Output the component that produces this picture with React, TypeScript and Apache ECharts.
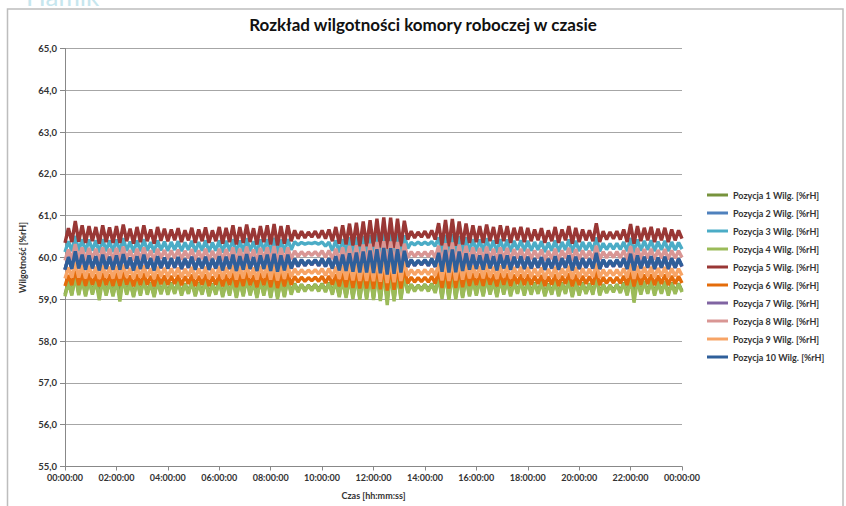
import React, { useEffect, useRef } from "react";
import * as echarts from "echarts";

// sampling: one reading every 8 minutes over 24 h (181 readings)
const stepMinutes = 8;
const times: number[] = Array.from({ length: 181 }, (_, i) => i * stepMinutes);

const yTicks = { min: 55, max: 65, interval: 1 };
const xTicks = { min: 0, max: 1440, interval: 120 };

const seriesNames = [
  "Pozycja 1 Wilg. [%rH]",
  "Pozycja 2 Wilg. [%rH]",
  "Pozycja 3 Wilg. [%rH]",
  "Pozycja 4 Wilg. [%rH]",
  "Pozycja 5 Wilg. [%rH]",
  "Pozycja 6 Wilg. [%rH]",
  "Pozycja 7 Wilg. [%rH]",
  "Pozycja 8 Wilg. [%rH]",
  "Pozycja 9 Wilg. [%rH]",
  "Pozycja 10 Wilg. [%rH]",
];

const pos1 = [
  59.11,59.43,59.13,59.58,59.14,59.49,59.11,59.47,59.15,59.45,59.09,59.49,59.13,59.44,59.11,
  59.47,59.11,59.51,59.15,59.42,59.09,59.45,59.13,59.49,59.15,59.40,59.09,59.45,59.15,59.42,
  59.15,59.40,59.16,59.43,59.13,59.38,59.16,59.43,59.11,59.40,59.15,59.44,59.11,59.38,59.15,
  59.45,59.09,59.43,59.13,59.49,59.07,59.45,59.11,59.51,59.13,59.43,59.07,59.47,59.13,59.49,
  59.07,59.52,59.06,59.47,59.09,59.49,59.15,59.38,59.20,59.36,59.22,59.34,59.24,59.36,59.22,
  59.38,59.20,59.40,59.15,59.45,59.09,59.49,59.07,59.52,59.06,59.54,59.04,59.57,59.04,59.60,
  59.03,59.63,59.01,59.66,58.98,59.65,59.00,59.63,59.04,59.59,59.18,59.36,59.22,59.34,59.24,
  59.36,59.22,59.38,59.18,59.53,59.06,59.61,59.04,59.62,59.05,59.57,59.07,59.52,59.11,59.49,
  59.13,59.47,59.11,59.51,59.15,59.45,59.09,59.49,59.15,59.47,59.11,59.43,59.16,59.45,59.13,
  59.43,59.15,59.40,59.16,59.43,59.11,59.38,59.15,59.45,59.11,59.40,59.16,59.47,59.09,59.43,
  59.13,59.40,59.16,59.38,59.15,59.53,59.13,59.36,59.18,59.34,59.20,59.36,59.18,59.40,59.13,
  59.52,59.09,59.47,59.15,59.43,59.16,59.45,59.13,59.42,59.16,59.43,59.13,59.40,59.16,59.38,
  59.20,
];

const pos2 = [
  59.72,60.00,59.74,60.14,59.75,60.06,59.72,60.04,59.75,60.02,59.70,60.06,59.74,60.01,59.72,
  60.04,59.72,60.07,59.75,59.99,59.70,60.02,59.74,60.06,59.75,59.97,59.70,60.02,59.76,59.99,
  59.75,59.97,59.77,60.00,59.74,59.96,59.77,60.01,59.72,59.97,59.75,60.01,59.72,59.96,59.75,
  60.02,59.70,60.01,59.74,60.06,59.69,60.02,59.72,60.07,59.74,60.00,59.69,60.04,59.74,60.06,
  59.69,60.08,59.67,60.04,59.70,60.06,59.75,59.96,59.80,59.94,59.82,59.92,59.84,59.94,59.82,
  59.96,59.80,59.97,59.75,60.02,59.70,60.06,59.69,60.09,59.67,60.11,59.65,60.13,59.65,60.16,
  59.64,60.19,59.63,60.22,59.60,60.21,59.62,60.19,59.65,60.15,59.79,59.94,59.82,59.92,59.84,
  59.94,59.82,59.96,59.79,60.10,59.67,60.17,59.65,60.18,59.66,60.13,59.69,60.09,59.72,60.06,
  59.74,60.04,59.72,60.07,59.75,60.02,59.70,60.06,59.75,60.04,59.72,60.01,59.77,60.02,59.74,
  60.01,59.75,59.97,59.77,60.00,59.72,59.96,59.75,60.02,59.72,59.97,59.77,60.04,59.70,60.01,
  59.74,59.97,59.77,59.96,59.75,60.10,59.74,59.94,59.79,59.92,59.80,59.94,59.79,59.97,59.74,
  60.08,59.70,60.04,59.75,60.01,59.77,60.02,59.74,59.99,59.77,60.01,59.74,59.97,59.77,59.96,
  59.80,
];

const pos3 = [
  60.13,60.39,60.15,60.52,60.15,60.44,60.13,60.43,60.16,60.41,60.12,60.44,60.15,60.41,60.13,
  60.43,60.13,60.46,60.16,60.38,60.12,60.41,60.15,60.44,60.16,60.37,60.12,60.41,60.17,60.38,
  60.16,60.37,60.18,60.39,60.15,60.36,60.18,60.40,60.13,60.37,60.16,60.41,60.13,60.36,60.16,
  60.41,60.12,60.40,60.15,60.44,60.10,60.41,60.13,60.46,60.15,60.39,60.10,60.43,60.15,60.44,
  60.10,60.47,60.08,60.43,60.12,60.44,60.18,60.38,60.30,60.36,60.32,60.35,60.33,60.36,60.32,
  60.37,60.27,60.37,60.16,60.41,60.12,60.44,60.10,60.48,60.08,60.49,60.07,60.51,60.07,60.53,
  60.06,60.57,60.05,60.59,60.02,60.58,60.04,60.57,60.07,60.53,60.22,60.36,60.30,60.37,60.31,
  60.37,60.31,60.38,60.27,60.48,60.08,60.54,60.07,60.56,60.08,60.51,60.10,60.48,60.13,60.44,
  60.15,60.43,60.13,60.46,60.16,60.41,60.12,60.44,60.16,60.43,60.13,60.40,60.18,60.41,60.15,
  60.40,60.16,60.37,60.18,60.39,60.13,60.36,60.16,60.41,60.13,60.37,60.18,60.43,60.12,60.40,
  60.15,60.37,60.18,60.36,60.16,60.48,60.15,60.34,60.19,60.33,60.20,60.34,60.19,60.37,60.15,
  60.47,60.12,60.43,60.16,60.40,60.18,60.41,60.15,60.38,60.18,60.40,60.15,60.37,60.18,60.36,
  60.20,
];

const pos4 = [
  59.07,59.42,59.09,59.59,59.10,59.49,59.07,59.47,59.11,59.45,58.98,59.49,59.09,59.44,59.07,
  59.47,58.95,59.51,59.11,59.41,59.05,59.45,59.09,59.49,59.11,59.39,59.05,59.45,59.12,59.41,
  59.11,59.39,59.13,59.42,59.09,59.37,59.13,59.43,59.07,59.39,59.11,59.44,59.07,59.37,59.11,
  59.45,59.05,59.43,59.09,59.49,59.03,59.45,59.07,59.51,59.09,59.42,59.03,59.47,59.09,59.49,
  59.03,59.52,59.01,59.47,59.05,59.49,59.11,59.37,59.17,59.35,59.19,59.33,59.21,59.35,59.19,
  59.37,59.17,59.39,59.11,59.45,59.05,59.49,59.03,59.53,59.01,59.55,58.99,59.58,58.99,59.61,
  58.98,59.65,58.96,59.68,58.86,59.67,58.95,59.65,58.99,59.60,59.15,59.35,59.19,59.33,59.21,
  59.35,59.19,59.37,59.15,59.54,59.01,59.62,58.99,59.64,59.00,59.58,59.03,59.53,59.07,59.49,
  59.09,59.47,59.07,59.51,59.11,59.45,59.05,59.49,59.11,59.47,59.07,59.43,59.13,59.45,59.09,
  59.43,59.11,59.39,59.13,59.42,59.07,59.37,59.11,59.45,59.07,59.39,59.13,59.47,59.05,59.43,
  59.09,59.39,59.13,59.37,59.11,59.54,59.09,59.35,59.15,59.33,59.17,59.35,59.15,59.39,59.09,
  59.52,58.92,59.47,59.11,59.43,59.13,59.45,59.09,59.41,59.13,59.43,59.09,59.39,59.13,59.37,
  59.17,
];

const pos5 = [
  60.35,60.70,60.37,60.87,60.38,60.77,60.35,60.75,60.39,60.73,60.33,60.77,60.37,60.72,60.35,
  60.75,60.35,60.79,60.39,60.69,60.33,60.73,60.37,60.77,60.39,60.67,60.33,60.73,60.40,60.69,
  60.39,60.67,60.41,60.70,60.37,60.65,60.41,60.71,60.35,60.67,60.39,60.72,60.35,60.65,60.39,
  60.73,60.33,60.71,60.37,60.77,60.31,60.73,60.35,60.79,60.37,60.70,60.31,60.75,60.37,60.77,
  60.31,60.80,60.29,60.75,60.33,60.77,60.39,60.65,60.45,60.63,60.47,60.61,60.49,60.63,60.47,
  60.65,60.45,60.67,60.39,60.73,60.33,60.77,60.31,60.81,60.29,60.83,60.27,60.86,60.27,60.89,
  60.26,60.93,60.24,60.96,60.21,60.95,60.23,60.93,60.27,60.88,60.43,60.63,60.47,60.61,60.49,
  60.63,60.47,60.65,60.43,60.82,60.29,60.90,60.27,60.92,60.28,60.86,60.31,60.81,60.35,60.77,
  60.37,60.75,60.35,60.79,60.39,60.73,60.33,60.77,60.39,60.75,60.35,60.71,60.41,60.73,60.37,
  60.71,60.39,60.67,60.41,60.70,60.35,60.65,60.39,60.73,60.35,60.67,60.41,60.75,60.33,60.71,
  60.37,60.67,60.41,60.65,60.39,60.82,60.37,60.63,60.43,60.61,60.45,60.63,60.43,60.67,60.37,
  60.80,60.33,60.75,60.39,60.71,60.41,60.73,60.37,60.69,60.41,60.71,60.37,60.67,60.41,60.65,
  60.45,
];

const pos6 = [
  59.32,59.58,59.34,59.71,59.34,59.63,59.32,59.62,59.35,59.60,59.31,59.63,59.34,59.60,59.32,
  59.62,59.32,59.65,59.35,59.57,59.31,59.60,59.34,59.63,59.35,59.56,59.31,59.60,59.36,59.57,
  59.35,59.56,59.37,59.58,59.34,59.55,59.37,59.59,59.32,59.56,59.35,59.60,59.32,59.55,59.35,
  59.60,59.31,59.59,59.34,59.63,59.29,59.60,59.32,59.65,59.34,59.58,59.29,59.62,59.34,59.63,
  59.29,59.66,59.27,59.62,59.31,59.63,59.35,59.55,59.41,59.53,59.43,59.52,59.44,59.53,59.43,
  59.55,59.39,59.56,59.35,59.60,59.31,59.63,59.29,59.67,59.27,59.68,59.26,59.70,59.26,59.72,
  59.25,59.76,59.24,59.78,59.21,59.77,59.23,59.76,59.26,59.72,59.38,59.53,59.41,59.52,59.42,
  59.53,59.41,59.55,59.38,59.67,59.27,59.73,59.26,59.75,59.27,59.70,59.29,59.67,59.32,59.63,
  59.34,59.62,59.32,59.65,59.35,59.60,59.31,59.63,59.35,59.62,59.32,59.59,59.37,59.60,59.34,
  59.59,59.35,59.56,59.37,59.58,59.32,59.55,59.35,59.60,59.32,59.56,59.37,59.62,59.31,59.59,
  59.34,59.56,59.37,59.55,59.35,59.67,59.34,59.53,59.38,59.52,59.39,59.53,59.38,59.56,59.34,
  59.66,59.31,59.62,59.35,59.59,59.37,59.60,59.34,59.57,59.37,59.59,59.34,59.56,59.37,59.55,
  59.39,
];

const pos7 = [
  59.70,60.02,59.72,60.13,59.73,60.06,59.70,60.04,59.73,60.02,59.68,60.06,59.72,60.01,59.70,
  60.04,59.70,60.07,59.73,59.99,59.68,60.02,59.72,60.06,59.73,59.97,59.68,60.02,59.74,59.99,
  59.73,59.97,59.75,60.00,59.72,59.96,59.75,60.01,59.70,59.97,59.73,60.01,59.70,59.96,59.73,
  60.02,59.68,60.01,59.72,60.06,59.67,60.02,59.70,60.07,59.72,60.00,59.67,60.04,59.72,60.06,
  59.67,60.08,59.65,60.04,59.68,60.06,59.73,59.96,59.78,59.94,59.80,59.92,59.82,59.94,59.80,
  59.96,59.78,59.97,59.73,60.02,59.68,60.06,59.67,60.09,59.65,60.11,59.63,60.13,59.63,60.16,
  59.62,60.19,59.61,60.22,59.58,60.21,59.60,60.19,59.63,60.15,59.77,59.94,59.80,59.92,59.82,
  59.94,59.80,59.96,59.77,60.10,59.65,60.17,59.63,60.18,59.64,60.13,59.67,60.09,59.70,60.06,
  59.72,60.04,59.70,60.07,59.73,60.02,59.68,60.06,59.73,60.04,59.70,60.01,59.75,60.02,59.72,
  60.01,59.73,59.97,59.75,60.00,59.70,59.96,59.73,60.02,59.70,59.97,59.75,60.04,59.68,60.01,
  59.72,59.97,59.75,59.96,59.73,60.10,59.72,59.94,59.77,59.92,59.78,59.94,59.77,59.97,59.72,
  60.08,59.68,60.04,59.73,60.01,59.75,60.02,59.72,59.99,59.75,60.01,59.72,59.97,59.75,59.96,
  59.78,
];

const pos8 = [
  59.93,60.19,59.95,60.32,59.95,60.24,59.93,60.23,59.96,60.21,59.92,60.24,59.95,60.21,59.93,
  60.23,59.93,60.26,59.96,60.18,59.92,60.21,59.95,60.24,59.96,60.17,59.92,60.21,59.97,60.18,
  59.96,60.17,59.98,60.19,59.95,60.16,59.98,60.20,59.93,60.17,59.96,60.21,59.93,60.16,59.96,
  60.21,59.92,60.20,59.95,60.24,59.90,60.21,59.93,60.26,59.95,60.19,59.90,60.23,59.95,60.24,
  59.90,60.27,59.88,60.23,59.92,60.24,59.96,60.16,60.02,60.14,60.04,60.13,60.05,60.14,60.04,
  60.16,60.00,60.17,59.96,60.21,59.92,60.24,59.90,60.28,59.88,60.29,59.87,60.31,59.87,60.33,
  59.86,60.37,59.85,60.39,59.82,60.38,59.84,60.37,59.87,60.33,59.99,60.14,60.02,60.13,60.03,
  60.14,60.02,60.16,59.99,60.28,59.88,60.34,59.87,60.36,59.88,60.31,59.90,60.28,59.93,60.24,
  59.95,60.23,59.93,60.26,59.96,60.21,59.92,60.24,59.96,60.23,59.93,60.20,59.98,60.21,59.95,
  60.20,59.96,60.17,59.98,60.19,59.93,60.16,59.96,60.21,59.93,60.17,59.98,60.23,59.92,60.20,
  59.95,60.17,59.98,60.16,59.96,60.28,59.95,60.14,59.99,60.13,60.00,60.14,59.99,60.17,59.95,
  60.27,59.92,60.23,59.96,60.20,59.98,60.21,59.95,60.18,59.98,60.20,59.95,60.17,59.98,60.16,
  60.00,
];

const pos9 = [
  59.50,59.76,59.52,59.89,59.52,59.81,59.50,59.80,59.53,59.78,59.49,59.81,59.52,59.78,59.50,
  59.80,59.50,59.83,59.53,59.75,59.49,59.78,59.52,59.81,59.53,59.74,59.49,59.78,59.54,59.75,
  59.53,59.74,59.55,59.76,59.52,59.73,59.55,59.77,59.50,59.74,59.53,59.78,59.50,59.73,59.53,
  59.78,59.49,59.77,59.52,59.81,59.47,59.78,59.50,59.83,59.52,59.76,59.47,59.80,59.52,59.81,
  59.47,59.84,59.45,59.80,59.49,59.81,59.53,59.73,59.59,59.71,59.61,59.70,59.62,59.71,59.61,
  59.73,59.57,59.74,59.53,59.78,59.49,59.81,59.47,59.85,59.45,59.86,59.44,59.88,59.44,59.90,
  59.43,59.94,59.42,59.96,59.39,59.95,59.41,59.94,59.44,59.90,59.56,59.71,59.59,59.70,59.60,
  59.71,59.59,59.73,59.56,59.85,59.45,59.91,59.44,59.93,59.45,59.88,59.47,59.85,59.50,59.81,
  59.52,59.80,59.50,59.83,59.53,59.78,59.49,59.81,59.53,59.80,59.50,59.77,59.55,59.78,59.52,
  59.77,59.53,59.74,59.55,59.76,59.50,59.73,59.53,59.78,59.50,59.74,59.55,59.80,59.49,59.77,
  59.52,59.74,59.55,59.73,59.53,59.85,59.52,59.71,59.56,59.70,59.57,59.71,59.56,59.74,59.52,
  59.84,59.49,59.80,59.53,59.77,59.55,59.78,59.52,59.75,59.55,59.77,59.52,59.74,59.55,59.73,
  59.57,
];

const pos10 = [
  59.71,60.01,59.73,60.15,59.74,60.07,59.71,60.05,59.74,60.03,59.69,60.07,59.73,60.02,59.71,
  60.05,59.71,60.08,59.74,60.00,59.69,60.03,59.73,60.07,59.74,59.98,59.69,60.03,59.75,60.00,
  59.74,59.98,59.76,60.01,59.73,59.97,59.76,60.02,59.71,59.98,59.74,60.02,59.71,59.97,59.74,
  60.03,59.69,60.02,59.73,60.07,59.68,60.03,59.71,60.08,59.73,60.01,59.68,60.05,59.73,60.07,
  59.68,60.09,59.66,60.05,59.69,60.07,59.74,59.97,59.79,59.95,59.81,59.93,59.83,59.95,59.81,
  59.97,59.79,59.98,59.74,60.03,59.69,60.07,59.68,60.10,59.66,60.12,59.64,60.14,59.64,60.17,
  59.63,60.20,59.62,60.23,59.59,60.22,59.61,60.20,59.64,60.16,59.78,59.95,59.81,59.93,59.83,
  59.95,59.81,59.97,59.78,60.11,59.66,60.18,59.64,60.19,59.65,60.14,59.68,60.10,59.71,60.07,
  59.73,60.05,59.71,60.08,59.74,60.03,59.69,60.07,59.74,60.05,59.71,60.02,59.76,60.03,59.73,
  60.02,59.74,59.98,59.76,60.01,59.71,59.97,59.74,60.03,59.71,59.98,59.76,60.05,59.69,60.02,
  59.73,59.98,59.76,59.97,59.74,60.11,59.73,59.95,59.78,59.93,59.79,59.95,59.78,59.98,59.73,
  60.09,59.69,60.05,59.74,60.02,59.76,60.03,59.73,60.00,59.76,60.02,59.73,59.98,59.76,59.97,
  59.79,
];

const seriesValues = [pos1, pos2, pos3, pos4, pos5, pos6, pos7, pos8, pos9, pos10];
const seriesColors = [
  "#77933C", "#4F81BD", "#4BACC6", "#9BBB59", "#993735",
  "#E46C0A", "#8064A2", "#D99694", "#F7A466", "#2F5F9A",
];

const FONT = "Lato, 'Open Sans', sans-serif";

function fmtTime(v: number): string {
  const m = Math.round(v) % 1440;
  const h = Math.floor(m / 60);
  const mm = m % 60;
  const p = (n: number) => (n < 10 ? "0" + n : "" + n);
  return `${p(h)}:${p(mm)}:00`;
}

export default function App() {
  const ref = useRef<HTMLDivElement>(null);
  useEffect(() => {
    document.body.style.margin = "0";
    if (!ref.current) return;
    const chart = echarts.init(ref.current, undefined, { renderer: "svg" });
    chart.setOption({
      animation: false,
      backgroundColor: "#ffffff",
      title: {
        text: "Rozkład wilgotności komory roboczej w czasie",
        left: "center",
        top: 11,
        textStyle: { fontFamily: FONT, fontSize: 17, fontWeight: "bold", color: "#111" },
      },
      graphic: [
        {
          type: "text",
          left: 26,
          top: -17,
          silent: true,
          style: { text: "Hamik", fontSize: 26, fontFamily: FONT, fill: "#C6E6EE" },
        },
        {
          type: "rect",
          silent: true,
          shape: { x: 7.5, y: 9, width: 835.5, height: 520 },
          style: { fill: "none", stroke: "#BDBDBD", lineWidth: 1.5 },
        },
      ],
      legend: {
        orient: "vertical",
        left: 707,
        top: 189,
        padding: 0,
        icon: "rect",
        itemWidth: 21,
        itemHeight: 3,
        itemGap: 6,
        data: seriesNames,
        textStyle: { fontFamily: FONT, fontSize: 9, fontWeight: "bold", color: "#333", lineHeight: 12 },
      },
      grid: { left: 65, right: 164, top: 48.5, bottom: 39.5 },
      xAxis: {
        type: "value",
        min: xTicks.min,
        max: xTicks.max,
        interval: xTicks.interval,
        name: "Czas [hh:mm:ss]",
        nameLocation: "middle",
        nameGap: 24,
        nameTextStyle: { fontFamily: FONT, fontSize: 9, fontWeight: "bold", color: "#333" },
        axisLine: { show: true, lineStyle: { color: "#888", width: 1 } },
        axisTick: { show: true, length: 4, lineStyle: { color: "#888" } },
        splitLine: { show: false },
        axisLabel: {
          formatter: (v: number) => fmtTime(v),
          fontFamily: FONT,
          fontSize: 9,
          fontWeight: "bold",
          color: "#333",
          margin: 6,
        },
      },
      yAxis: {
        type: "value",
        min: yTicks.min,
        max: yTicks.max,
        interval: yTicks.interval,
        name: "Wilgotność [%rH]",
        nameLocation: "middle",
        nameGap: 31,
        nameTextStyle: { fontFamily: FONT, fontSize: 9, fontWeight: "bold", color: "#333" },
        axisLine: { show: true, lineStyle: { color: "#888", width: 1 } },
        axisTick: { show: true, length: 5, lineStyle: { color: "#888" } },
        splitLine: { show: true, lineStyle: { color: "#A6A6A6", width: 1 } },
        axisLabel: {
          formatter: (v: number) => v.toFixed(1).replace(".", ","),
          fontFamily: FONT,
          fontSize: 9.5,
          fontWeight: "bold",
          color: "#333",
          margin: 8,
        },
      },
      series: seriesNames.map((name, k) => ({
        name,
        type: "line",
        showSymbol: false,
        symbol: "none",
        color: seriesColors[k],
        lineStyle: { width: 3.4, color: seriesColors[k] },
        data: times.map((t, i) => [t, seriesValues[k][i]]),
      })),
    });
    return () => chart.dispose();
  }, []);
  return (
    <div
      ref={ref}
      style={{ position: "fixed", left: 0, top: 0, width: 846, height: 506 }}
    />
  );
}
